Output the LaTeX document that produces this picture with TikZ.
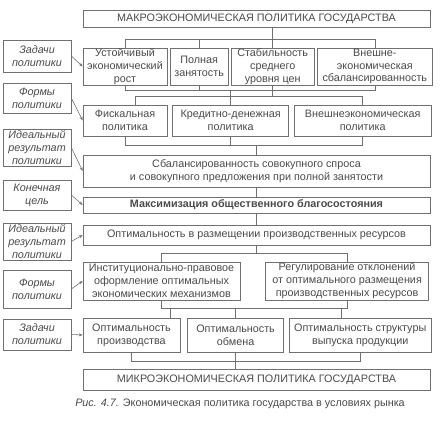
\documentclass[tikz,border=0pt]{standalone}
\usepackage{fontspec}
\setmainfont{Liberation Sans}
\usepackage{tikz}
\usetikzlibrary{arrows.meta,positioning}
\definecolor{ink}{HTML}{4A4A4A}
\definecolor{rule}{HTML}{707070}
\newcommand{\fs}{\fontsize{10.8}{12.9}\selectfont}

\begin{document}
\begin{tikzpicture}[x=1pt, y=-1pt,
    node distance=2.5pt,
    box/.style={rectangle, draw=rule, line width=0.6pt, text=ink,
                align=center, inner sep=0.3pt, font=\fs},
    task/.style={box, font=\fs\itshape, minimum width=68pt},
    wire/.style={draw=rule, line width=0.6pt},
    arrow/.style={-{Stealth[length=4pt,width=3pt]}, draw=rule, line width=0.6pt}
]
\useasboundingbox (0,0) rectangle (448,423);

% Macro level
\node[box, minimum width=347pt, minimum height=17pt] (macro) at (256.5,18.5) {МАКРОЭКОНОМИЧЕСКАЯ ПОЛИТИКА ГОСУДАРСТВА};

% Goals
\node[box, minimum width=84pt, minimum height=37pt] (goal1) at (125,66.5) {Устойчивый\\экономический\\рост};
\node[box, minimum width=58pt, minimum height=37pt, right=of goal1] (goal2) {Полная\\занятость};
\node[box, minimum width=83pt, minimum height=37pt, right=of goal2] (goal3) {Стабильность\\среднего\\уровня цен};
\node[box, minimum width=115pt, minimum height=37pt, right=of goal3] (goal4) {Внешне-\\экономическая\\сбалансированность};

% Forms
\node[box, minimum width=84pt, minimum height=31pt] (form1) at (125,120.5) {Фискальная\\политика};
\node[box, minimum width=116pt, minimum height=31pt, right=5pt of form1] (form2) {Кредитно-денежная\\политика};
\node[box, minimum width=137pt, minimum height=31pt, right=5pt of form2] (form3) {Внешнеэкономическая\\политика};

% Result and aim
\node[box, minimum width=347pt, minimum height=32pt] (balance) at (256.5,171) {Сбалансированность совокупного спроса\\и совокупного предложения при полной занятости};
\node[box, minimum width=347pt, minimum height=16pt, font=\fs\bfseries] (welfare) at (256.5,205) {Максимизация общественного благосостояния};
\node[box, minimum width=347pt, minimum height=20pt] (alloc) at (256.5,235) {Оптимальность в размещении производственных ресурсов};

% Mechanisms
\node[box, minimum width=157pt, minimum height=38pt] (mech1) at (161.5,281) {Институционально-правовое\\оформление оптимальных\\экономических механизмов};
\node[box, minimum width=163pt, minimum height=38pt, right=25pt of mech1] (mech2) {Регулирование отклонений\\от оптимального размещения\\производственных ресурсов};

% Optima
\node[box, minimum width=97pt, minimum height=34pt] (opt1) at (131.5,335) {Оптимальность\\производства};
\node[box, minimum width=96pt, minimum height=34pt, right=7pt of opt1] (opt2) {Оптимальность\\обмена};
\node[box, minimum width=142pt, minimum height=34pt, right=5pt of opt2] (opt3) {Оптимальность структуры\\выпуска продукции};

% Micro level
\node[box, minimum width=347pt, minimum height=21pt] (micro) at (256.5,379.5) {МИКРОЭКОНОМИЧЕСКАЯ ПОЛИТИКА ГОСУДАРСТВА};

% Caption
\node[text=ink, font=\fs] (caption) at (240,404) {\textit{Рис. 4.7.} Экономическая политика государства в условиях рынка};

% Side labels
\node[task, minimum height=32pt] (task1) at (37,56) {Задачи\\политики};
\node[task, minimum height=30pt] (task2) at (37,98) {Формы\\политики};
\node[task, minimum height=37pt] (task3) at (37,147.5) {Идеальный\\результат\\политики};
\node[task, minimum height=30pt] (task4) at (37,195) {Конечная\\цель};
\node[task, minimum height=37pt] (task5) at (37,241.5) {Идеальный\\результат\\политики};
\node[task, minimum height=38pt] (task6) at (37,289) {Формы\\политики};
\node[task, minimum height=31pt] (task7) at (37,334.5) {Задачи\\политики};

\draw[arrow] (task1.east) -- (goal1.west);
\draw[arrow] (task2.east) -- (form1.west);
\draw[arrow] (task3.east) -- (balance.west);
\draw[arrow] (task4.east) -- (welfare.west);
\draw[arrow] (task5.east) -- (alloc.west);
\draw[arrow] (task6.east) -- (mech1.west);
\draw[arrow] (task7.east) -- (opt1.west);

% Buses
\coordinate (bus0) at (0,39);
\coordinate (bus1) at (0,90);
\coordinate (bus2) at (0,96);
\coordinate (bus3) at (0,145);
\coordinate (bus4) at (0,253);
\coordinate (bus5) at (0,308);
\coordinate (bus6) at (0,361);

\draw[wire] (macro.south -| goal3.north) -- (goal3.north);
\draw[wire] (goal1.north) |- (bus0 -| goal4.north) -- (goal4.north);
\draw[wire] (goal2.north) -- (goal2.north |- bus0);

\draw[wire] (goal1.south) |- (bus1 -| goal4.south) -- (goal4.south);
\draw[wire] (goal2.south) -- (goal2.south |- bus1);
\draw[wire] (goal3.south) -- (goal3.south |- bus2);
\draw[wire] (form2.north |- bus1) -- (form2.north);
\draw[wire] ([xshift=10pt]form1.north) |- (bus2 -| form3.north) -- (form3.north);

\draw[wire] (form1.south) |- (bus3 -| form3.south) -- (form3.south);
\draw[wire] (form2.south) -- (form2.south |- bus3);
\draw[wire] (balance.north |- bus3) -- (balance.north);

\draw[wire] (balance.south) -- (welfare.north);
\draw[wire] (welfare.south) -- (alloc.north);

\draw[wire] (alloc.south) -- (alloc.south |- bus4);
\draw[wire] (mech1.north) |- (bus4 -| mech2.north) -- (mech2.north);

\draw[wire] (mech1.south) |- (bus5 -| mech2.south) -- (mech2.south);
\draw[wire] ([xshift=-10pt]opt1.north east) -- ([xshift=-10pt]opt1.north east |- bus5);
\draw[wire] (opt2.north) -- (opt2.north |- bus5);
\draw[wire] ([xshift=52pt]opt3.north west) -- ([xshift=52pt]opt3.north west |- bus5);

\draw[wire] (opt1.south) |- (bus6 -| opt3.south) -- (opt3.south);
\draw[wire] (opt2.south) -- (micro.north -| opt2.south);

\end{tikzpicture}
\end{document}
